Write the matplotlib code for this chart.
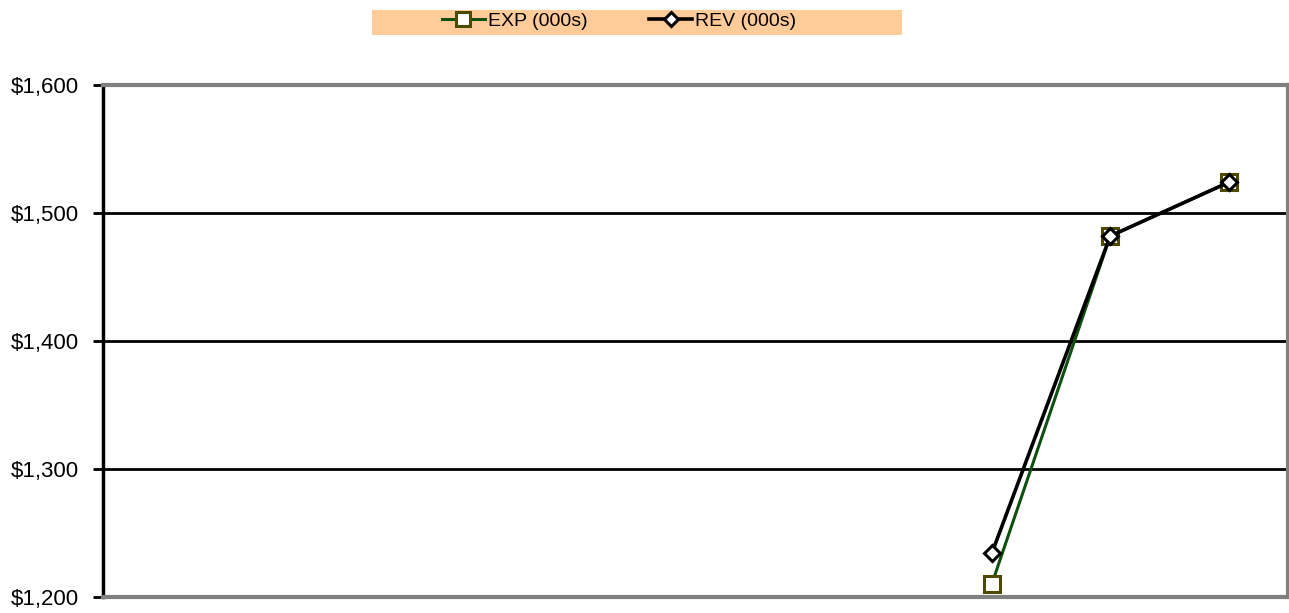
import numpy as np
import matplotlib.pyplot as plt
from matplotlib.patches import Rectangle
from matplotlib.ticker import FuncFormatter

# ==============================
# DATOS
# ==============================

categorias = ["1", "2", "3", "4", "5", "6", "7", "8", "9", "10"]
exp_vals = [np.nan] * 7 + [1210, 1482, 1524]
rev_vals = [np.nan] * 7 + [1234, 1482, 1524]

plt.rcParams["font.family"] = ["Liberation Sans", "DejaVu Sans"]

# ==============================
# FIGURA
# ==============================

fig = plt.figure(figsize=(12.89, 6.13), dpi=100)
ax = fig.add_axes([103 / 1289, 1 - 597 / 613, (1288 - 103) / 1289, (597 - 85) / 613])

x = np.arange(len(categorias))

ax.plot(x, exp_vals, color="#0f4f0f", lw=2.2, marker="s", ms=12,
        mfc="white", mec="#4d4a00", mew=2.2, label="EXP (000s)", zorder=3)
ax.plot(x, rev_vals, color="black", lw=2.6, marker="D", ms=8.5,
        mfc="white", mec="black", mew=2.2, label="REV (000s)", zorder=4)

ax.set_xlim(-0.5, len(categorias) - 0.5)
ax.set_ylim(1200, 1600)
ax.set_yticks([1200, 1300, 1400, 1500, 1600])
ax.yaxis.set_major_formatter(FuncFormatter(lambda v, p: f"${v:,.0f}"))
ax.set_xticks([])

ax.grid(axis="y", color="black", lw=2)
ax.set_axisbelow(True)

for s in ["top", "right", "bottom"]:
    ax.spines[s].set_color("#808080")
    ax.spines[s].set_linewidth(3)
ax.spines["left"].set_color("black")
ax.spines["left"].set_linewidth(2.5)
ax.tick_params(axis="y", length=7, width=2, pad=10, labelsize=16)

# banda de la leyenda
fig.patches.append(Rectangle((372 / 1289, 1 - 35 / 613), (902 - 372) / 1289, 25 / 613,
                             transform=fig.transFigure, facecolor="#ffcc99",
                             edgecolor="none", zorder=0))
fig.legend(loc="center", bbox_to_anchor=(619 / 1289, 1 - 21 / 613), ncol=2,
           frameon=False, fontsize=14, handlelength=2.2, columnspacing=3.2,
           handletextpad=0.15, borderpad=0, markerscale=0.85)

fig.savefig("out.png", dpi=100)
